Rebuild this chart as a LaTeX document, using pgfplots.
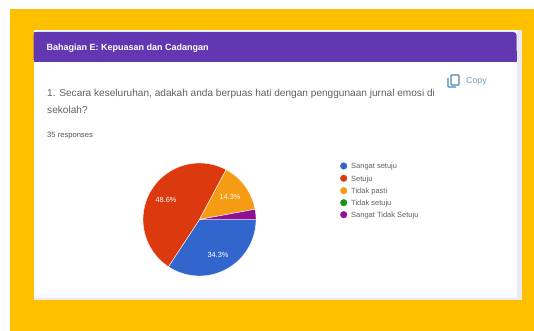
\documentclass[border=0pt]{standalone}
\usepackage{pgfplots}
\pgfplotsset{compat=1.18}
\usepackage{fontspec}
\setmainfont{Liberation Sans}
\definecolor{frame}{HTML}{FFC000}
\definecolor{edge}{HTML}{ECE9F3}
\definecolor{faint}{HTML}{FBFAFD}
\definecolor{head}{HTML}{6437B2}
\definecolor{ink}{HTML}{5F6064}
\definecolor{copyblue}{HTML}{4A86B0}
\definecolor{sangat}{HTML}{3366CC}
\definecolor{setuju}{HTML}{DC3A0E}
\definecolor{pasti}{HTML}{F59B14}
\definecolor{tidak}{HTML}{109618}
\definecolor{stidak}{HTML}{8F0F96}
% One pie slice between two cumulative percentages, clockwise from the east
\newcommand{\wedgeplot}[3]{% colour, start percent, end percent
  \addplot[draw=white,line width=0.4pt,fill=#1,domain=#2:#3,samples=70,variable=\t]
    ({199.5+56.5*cos(-3.6*\t/1.001)},{111.5+56.5*sin(-3.6*\t/1.001)})
    -- (axis cs:199.5,111.5) -- cycle;}
\begin{document}
\begin{tikzpicture}
\begin{axis}[
  scale only axis,width=534pt,height=331pt,
  xmin=0,xmax=534,ymin=0,ymax=331,
  hide axis,clip=true,
]
% page, frame and card
\fill[white] (axis cs:0,0) rectangle (axis cs:534,331);
\fill[frame] (axis cs:10,0) rectangle (axis cs:534,322);
\fill[edge] (axis cs:34,31) rectangle (axis cs:522,301);
\fill[faint] (axis cs:34,33) rectangle (axis cs:517,301);
\fill[white] (axis cs:34,38) rectangle (axis cs:517,301);
\fill[head,rounded corners=3pt] (axis cs:33.5,269) -- (axis cs:33.5,299) -- (axis cs:516.5,299) -- (axis cs:516.5,269) -- cycle;
\fill[head] (axis cs:33.5,269) rectangle (axis cs:516.5,280);
\fill[head] (axis cs:33.5,285) rectangle (axis cs:40,299);
% card text
\node[anchor=base west,text=white,font=\fontsize{9}{10}\selectfont\bfseries,inner sep=0pt] at (axis cs:46.5,280.5) {Bahagian E: Kepuasan dan Cadangan};
\node[anchor=base west,text=ink,font=\fontsize{10.1}{11}\selectfont,inner sep=0pt] at (axis cs:47,234.5) {1. Secara keseluruhan, adakah anda berpuas hati dengan penggunaan jurnal emosi di};
\node[anchor=base west,text=ink,font=\fontsize{10.1}{11}\selectfont,inner sep=0pt] at (axis cs:47,217.5) {sekolah?};
\node[anchor=base west,text=ink!85!black,font=\fontsize{7.6}{8}\selectfont,inner sep=0pt] at (axis cs:47,193) {35 responses};
\node[anchor=base west,text=copyblue!80!white,font=\fontsize{8.8}{9}\selectfont,inner sep=0pt] at (axis cs:466,247) {Copy};
% copy icon
\draw[copyblue,line width=1.1pt,rounded corners=0.6pt] (axis cs:451,256) rectangle (axis cs:459,246);
\draw[copyblue,line width=1.1pt,rounded corners=0.6pt] (axis cs:448,253) -- (axis cs:448,244) -- (axis cs:456,244);
% pie slices (Tidak setuju has no responses)
\wedgeplot{sangat}{0}{34.3}
\wedgeplot{setuju}{34.3}{82.9}
\wedgeplot{pasti}{82.9}{97.2}
\wedgeplot{stidak}{97.2}{100.1}
% slice labels
\node[text=white,font=\fontsize{7.4}{8}\selectfont,inner sep=0pt] at (axis cs:218,76.5) {34.3\%};
\node[text=white,font=\fontsize{7.4}{8}\selectfont,inner sep=0pt] at (axis cs:166,131) {48.6\%};
\node[text=white,font=\fontsize{7.4}{8}\selectfont,inner sep=0pt] at (axis cs:230,134.3) {14.3\%};
% legend
\addplot[only marks,mark=*,mark size=3.3pt,draw=sangat,fill=sangat] coordinates {(343.7,165)};
\addplot[only marks,mark=*,mark size=3.3pt,draw=setuju,fill=setuju] coordinates {(343.7,152.7)};
\addplot[only marks,mark=*,mark size=3.3pt,draw=pasti,fill=pasti] coordinates {(343.7,140.3)};
\addplot[only marks,mark=*,mark size=3.3pt,draw=tidak,fill=tidak] coordinates {(343.7,128.3)};
\addplot[only marks,mark=*,mark size=3.3pt,draw=stidak,fill=stidak] coordinates {(343.7,116.3)};
\node[anchor=west,text=ink,font=\fontsize{7.5}{8}\selectfont,inner sep=0pt] at (axis cs:351,164.2) {Sangat setuju};
\node[anchor=west,text=ink,font=\fontsize{7.5}{8}\selectfont,inner sep=0pt] at (axis cs:351,151.9) {Setuju};
\node[anchor=west,text=ink,font=\fontsize{7.5}{8}\selectfont,inner sep=0pt] at (axis cs:351,139.5) {Tidak pasti};
\node[anchor=west,text=ink,font=\fontsize{7.5}{8}\selectfont,inner sep=0pt] at (axis cs:351,127.5) {Tidak setuju};
\node[anchor=west,text=ink,font=\fontsize{7.5}{8}\selectfont,inner sep=0pt] at (axis cs:351,115.5) {Sangat Tidak Setuju};
\end{axis}
\end{tikzpicture}
\end{document}
